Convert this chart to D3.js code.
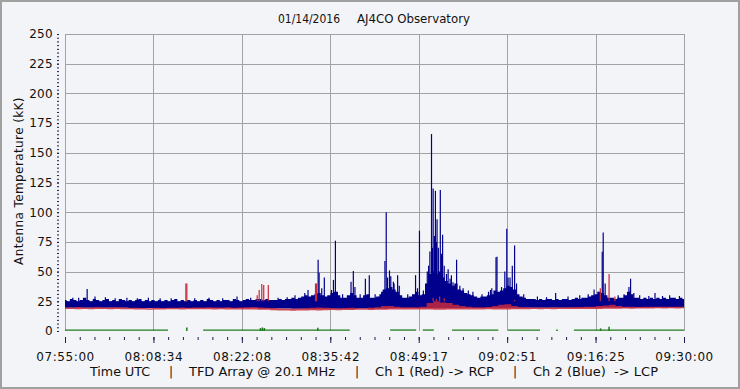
<!DOCTYPE html>
<html>
<head>
<meta charset="utf-8">
<script src="https://cdn.jsdelivr.net/npm/d3@7"></script>
<style>
  body { margin: 0; background: #f3f4f7; }
  svg { display: block; font-family: "DejaVu Sans", sans-serif; }
</style>
</head>
<body>
<svg></svg>
<script>
// time is in minutes after 07:55:00
var xTickLabels = ["07:55:00","08:08:34","08:22:08","08:35:42","08:49:17","09:02:51","09:16:25","09:30:00"];
var yTicks = [0,25,50,75,100,125,150,175,200,225,250];

// top of the dense LCP band, one value per half minute
var blueHigh = [
  26,25,27,26,25,26,28,26,25,27,26,25,26,27,25,26,25,27,26,25,
  26,25,26,27,25,26,25,26,25,26,25,26,25,26,27,25,26,25,26,25,
  26,25,26,25,27,26,25,26,25,26,26,25,27,26,25,26,27,26,26,27,
  27,26,27,26,26,26,27,26,27,27,28,27,28,29,30,29,30,31,32,30,
  29,30,32,33,30,28,28,30,32,30,28,28,30,31,28,28,29,31,35,36,
  37,35,33,30,28,28,29,31,33,30,31,40,48,50,48,50,45,42,40,38,
  40,35,34,32,31,30,29,28,29,29,30,31,34,33,34,36,38,37,35,31,
  29,28,27,27,27,26,27,26,27,27,26,27,26,27,27,26,27,28,27,28,
  28,29,30,31,33,32,30,28,28,27,28,28,30,33,31,28,28,27,28,27,
  28,27,28,27,28,27,28,28,27,28,27
];
// bottom of the LCP band, one value per 5 minutes
var blueLow = [19.5,19.5,19.3,19.3,19.4,19.4,19.0,18.8,18.8,19.0,19.3,19.4,19.4,19.5,19.5,19.6,19.7,19.8,19.9,20];

// RCP band, one value per minute
var redHigh = [
  19.8,19.8,20.2,19.8,19.8,20.2,19.8,19.8,20.2,19.8,
  19.6,19.5,19.3,19.2,19.5,19.4,19.5,19.6,19.8,19.6,
  19.8,19.8,20,19.8,19.8,20,19.6,19.8,20,20.3,
  19.8,19.6,19.3,19,18.9,18.8,18.9,19.2,19.6,19.8,
  19.5,19.3,19.0,19.4,19.5,19.2,19.2,19.6,20,21,
  21,20.5,20,20,20,20.5,23.5,25,24,23.5,
  22,21,20.5,20,20,20.2,21,22,22.5,21,
  20,20,19.8,19.8,19.8,20,19.8,20,20,20.2,
  20.5,20.5,21,21.5,22,21,20.5,20.5,20.2,20.5,
  20.5,20.5,20.5,20.5,20.5,20.5
];
var redLow = [
  18.5,18.5,18.3,18.5,18.4,18.5,18.5,18.3,18.5,18.4,
  18.3,18.2,18.0,17.8,18.0,18.2,18.3,18.3,18.2,18.3,
  18.3,18.4,18.3,18.2,18.3,18.2,18.0,18.1,18.2,18.0,
  17.8,17.8,17.5,17.3,17.2,17.0,17.2,17.3,17.4,17.3,
  17.4,17.6,17.5,17.6,17.7,17.8,17.8,17.7,17.8,17.9,
  18.0,18.0,18.1,18.0,18.0,18.2,18.0,17.8,17.9,18.0,
  18.0,18.1,18.2,18.0,18.2,18.3,18.2,18.0,18.2,18.3,
  18.4,18.3,18.5,18.4,18.5,18.4,18.5,18.6,18.5,18.6,
  18.6,18.5,18.6,18.8,18.7,18.8,18.9,18.8,19.0,19.0,
  19.0,19.1,19.0,19.1,19.0,19.1
];

// [minute, peak kK]
var blueSpikes = [
  [1.2,28],[2.1,28],[3.4,35.4],[4.6,29],[6.2,28.5],[7.7,27.5],[9.5,28],[11.1,27.5],[12.8,28],[14.6,27.5],
  [16.3,27.5],[19.9,27.5],[22.1,28],[24.2,27.5],[26.4,29],[28.5,28],[32.7,28],[34.1,28.5],[35.3,30],
  [36.8,32],[37.3,34.5],[37.9,29],[38.85,60],[39.0,49],[39.4,36],[39.8,45],[40.9,34.5],[41.2,43],
  [41.5,76],[41.8,33],[42.6,31],[43.9,41.5],[44.25,50.5],[44.5,37],[45.3,31],[46.1,44],[46.7,47],
  [47.6,31],[48.6,33],[48.75,33],[49.1,59],[49.3,100],[49.5,45],[49.8,51],[50.0,46],[50.4,41.5],
  [50.5,40],[51.05,47],[51.3,38],[52.6,31],[53.8,47],[54.1,36],[54.4,84.4],[55.0,34],[55.6,50],
  [55.8,55],[56.0,67],[56.25,165.8],[56.4,70],[56.5,120],[56.7,80],[56.85,118],[57.0,75],[57.1,94],
  [57.3,70],[57.6,118.7],[57.8,65],[57.95,81],[58.2,55],[58.55,48],[58.8,52],[59.1,44],[59.3,47],
  [59.55,41],[60.1,60],[60.6,38],[61.1,36],[61.9,34],[62.6,33],[64.0,31],[65,33],[65.3,34.5],
  [65.5,36],[66.15,62],[66.3,62.5],[67,37],[67.5,50],[67.8,86],[68.0,45],[68.3,45],[68.65,55],
  [69.0,72],[69.3,40],[70.4,31],[72.5,29],[73.9,28.5],[75.3,32],[77.2,29],[79,30],[80.3,31],
  [81.2,35],[81.8,33],[82.45,66.7],[82.6,83],[82.9,40],[84.9,30],[85.8,31],[86.55,37],[86.8,44],
  [87.3,32],[88.2,30],[89.6,29.5],[90.55,32],[91.7,29.5],[92.8,30],[94.3,29.5]
];
var redSpikes = [
  [18.55,40],[18.7,40],[29.5,30],[29.8,34.5],[30.2,39.6],[30.5,38.7],[31.2,38.7],
  [38.45,40],[38.6,40],[56.5,28],[57.0,27],[57.5,29],[58.2,27.5],[69.0,26],
  [82.15,36],[83.5,48],[84.4,29]
];

// chassis channel, near zero, with drop-outs
var greenSegments = [[0,15.8],[21.2,43.7],[49.9,53.9],[54.9,56.6],[59.4,66.5],[68,72.9],[78.1,95]];
var greenLevel = 0.8;
var greenSpikes = [[18.7,3],[30.0,2.5],[30.3,3],[30.6,2.5],[38.8,2.8],[75.5,1.2],[82.2,2.2],[83.5,3.6]];

var width = 740, height = 389;
var plotLeft = 65, plotRight = 684, plotTop = 34, plotBottom = 331;

var svg = d3.select("svg").attr("width", width).attr("height", height);

svg.append("rect")
   .attr("x", 1).attr("y", 1)
   .attr("width", width - 2).attr("height", height - 2)
   .attr("fill", "#f3f4f7")
   .attr("stroke", "#a0a0a0")
   .attr("stroke-width", 2);

var x = d3.scaleLinear().domain([0, 95]).range([plotLeft, plotRight]);
var y = d3.scaleLinear().domain([0, 250]).range([plotBottom, plotTop]);

var majorX = d3.range(8).map(function(i) { return i * 95 / 7; });
var minorX = d3.range(43).map(function(i) { return i * 95 / 42; });
var minorY = d3.range(81).map(function(i) { return i * 3.125; });

// grid
svg.append("g").selectAll("line")
   .data(yTicks.filter(function(d) { return d > 0; }))
   .enter().append("line")
   .attr("x1", plotLeft).attr("x2", plotRight)
   .attr("y1", function(d) { return Math.round(y(d)) + 0.5; })
   .attr("y2", function(d) { return Math.round(y(d)) + 0.5; })
   .attr("stroke", "#a2a2a2");
svg.append("g").selectAll("line")
   .data(majorX)
   .enter().append("line")
   .attr("x1", function(d) { return Math.round(x(d)) + 0.5; })
   .attr("x2", function(d) { return Math.round(x(d)) + 0.5; })
   .attr("y1", plotTop).attr("y2", plotBottom)
   .attr("stroke", "#a2a2a2");

svg.append("clipPath").attr("id", "clip")
   .append("rect").attr("x", plotLeft).attr("y", plotTop)
   .attr("width", plotRight - plotLeft).attr("height", plotBottom - plotTop + 2);
var plot = svg.append("g").attr("clip-path", "url(#clip)");

var blue = "#00008c", red = "#c8283a", green = "#1e7a1e";

// LCP band
plot.append("path")
    .datum(blueHigh)
    .attr("d", d3.area()
        .x(function(d, i) { return x(i * 0.5); })
        .y0(function(d, i) { return y(blueLow[Math.floor(i / 10)]); })
        .y1(function(d) { return y(d); })
        .curve(d3.curveStep))
    .attr("fill", blue);

plot.selectAll("line.blue")
    .data(blueSpikes)
    .enter().append("line")
    .attr("class", "blue")
    .attr("x1", function(d) { return x(d[0]); })
    .attr("x2", function(d) { return x(d[0]); })
    .attr("y1", y(24))
    .attr("y2", function(d) { return y(d[1]); })
    .attr("stroke", blue)
    .attr("stroke-width", 1.2);

// RCP band, drawn over LCP
plot.append("path")
    .datum(redHigh)
    .attr("d", d3.area()
        .x(function(d, i) { return x(i); })
        .y0(function(d, i) { return y(redLow[i]); })
        .y1(function(d) { return y(d); })
        .curve(d3.curveStep))
    .attr("fill", red)
    .attr("opacity", 0.85);

plot.selectAll("line.red")
    .data(redSpikes)
    .enter().append("line")
    .attr("class", "red")
    .attr("x1", function(d) { return x(d[0]); })
    .attr("x2", function(d) { return x(d[0]); })
    .attr("y1", y(25))
    .attr("y2", function(d) { return y(d[1]); })
    .attr("stroke", red)
    .attr("stroke-width", 1.2);

// chassis
plot.selectAll("line.green")
    .data(greenSegments)
    .enter().append("line")
    .attr("class", "green")
    .attr("x1", function(d) { return x(d[0]); })
    .attr("x2", function(d) { return x(d[1]); })
    .attr("y1", y(greenLevel))
    .attr("y2", y(greenLevel))
    .attr("stroke", green)
    .attr("stroke-width", 1.3);
plot.selectAll("line.gspike")
    .data(greenSpikes)
    .enter().append("line")
    .attr("class", "gspike")
    .attr("x1", function(d) { return x(d[0]); })
    .attr("x2", function(d) { return x(d[0]); })
    .attr("y1", y(0))
    .attr("y2", function(d) { return y(d[1]); })
    .attr("stroke", green)
    .attr("stroke-width", 1.5);

// axes
var tickColor = "#1c1c50";
var fontSize = "12px";

var xMinor = svg.append("g")
   .attr("transform", "translate(0,337)")
   .call(d3.axisBottom(x).tickValues(minorX).tickSize(3).tickFormat(""));
xMinor.select(".domain").remove();
xMinor.selectAll("line").attr("stroke", tickColor);

var xAxis = svg.append("g")
   .attr("transform", "translate(0,337)")
   .call(d3.axisBottom(x).tickValues(majorX).tickSize(6).tickPadding(9)
         .tickFormat(function(d, i) { return xTickLabels[i]; }));
xAxis.select(".domain").remove();
xAxis.selectAll("line").attr("stroke", tickColor);
xAxis.selectAll("text")
     .attr("fill", "#111")
     .style("font-size", fontSize)
     .style("letter-spacing", "0.6px")
     .style("font-family", "DejaVu Sans");

var yMinor = svg.append("g")
   .attr("transform", "translate(59,0)")
   .call(d3.axisLeft(y).tickValues(minorY).tickSize(2).tickFormat(""));
yMinor.select(".domain").remove();
yMinor.selectAll("line").attr("stroke", tickColor);

var yAxis = svg.append("g")
   .attr("transform", "translate(59,0)")
   .call(d3.axisLeft(y).tickValues(yTicks).tickSize(2).tickPadding(4));
yAxis.select(".domain").remove();
yAxis.selectAll("line").attr("stroke", tickColor);
yAxis.selectAll("text")
     .attr("fill", "#111")
     .style("font-size", fontSize)
     .style("letter-spacing", "0.3px")
     .style("font-family", "DejaVu Sans");

svg.append("text")
   .text("Antenna Temperature (kK)")
   .attr("transform", "translate(23,181) rotate(-90)")
   .attr("text-anchor", "middle")
   .attr("fill", "#111")
   .style("font-size", fontSize)
   .style("letter-spacing", "0.4px");

// title and caption pieces, placed as in the original
var titleParts = ["01/14/2016", "AJ4CO Observatory"];
var titleX = [278, 357], titleW = [62, 113];
svg.selectAll("text.title")
   .data(titleParts)
   .enter().append("text")
   .attr("class", "title")
   .attr("x", function(d, i) { return titleX[i]; })
   .attr("y", 23)
   .attr("fill", "#111")
   .attr("textLength", function(d, i) { return titleW[i]; })
   .attr("lengthAdjust", "spacingAndGlyphs")
   .style("font-size", fontSize)
   .text(function(d) { return d; });

var captionParts = ["Time UTC", "|", "TFD Array @ 20.1 MHz", "|", "Ch 1 (Red) -> RCP", "|", "Ch 2 (Blue)  -> LCP"];
var captionX = [90, 169, 189, 355, 375, 513, 533];
var captionW = [60, 0, 146, 0, 119, 0, 125];
svg.selectAll("text.caption")
   .data(captionParts)
   .enter().append("text")
   .attr("class", "caption")
   .attr("x", function(d, i) { return captionX[i]; })
   .attr("y", 376)
   .attr("fill", "#111")
   .each(function(d, i) {
     if (captionW[i]) d3.select(this).attr("textLength", captionW[i]).attr("lengthAdjust", "spacingAndGlyphs");
   })
   .style("white-space", "pre")
   .style("font-size", fontSize)
   .text(function(d) { return d; });
</script>
</body>
</html>
